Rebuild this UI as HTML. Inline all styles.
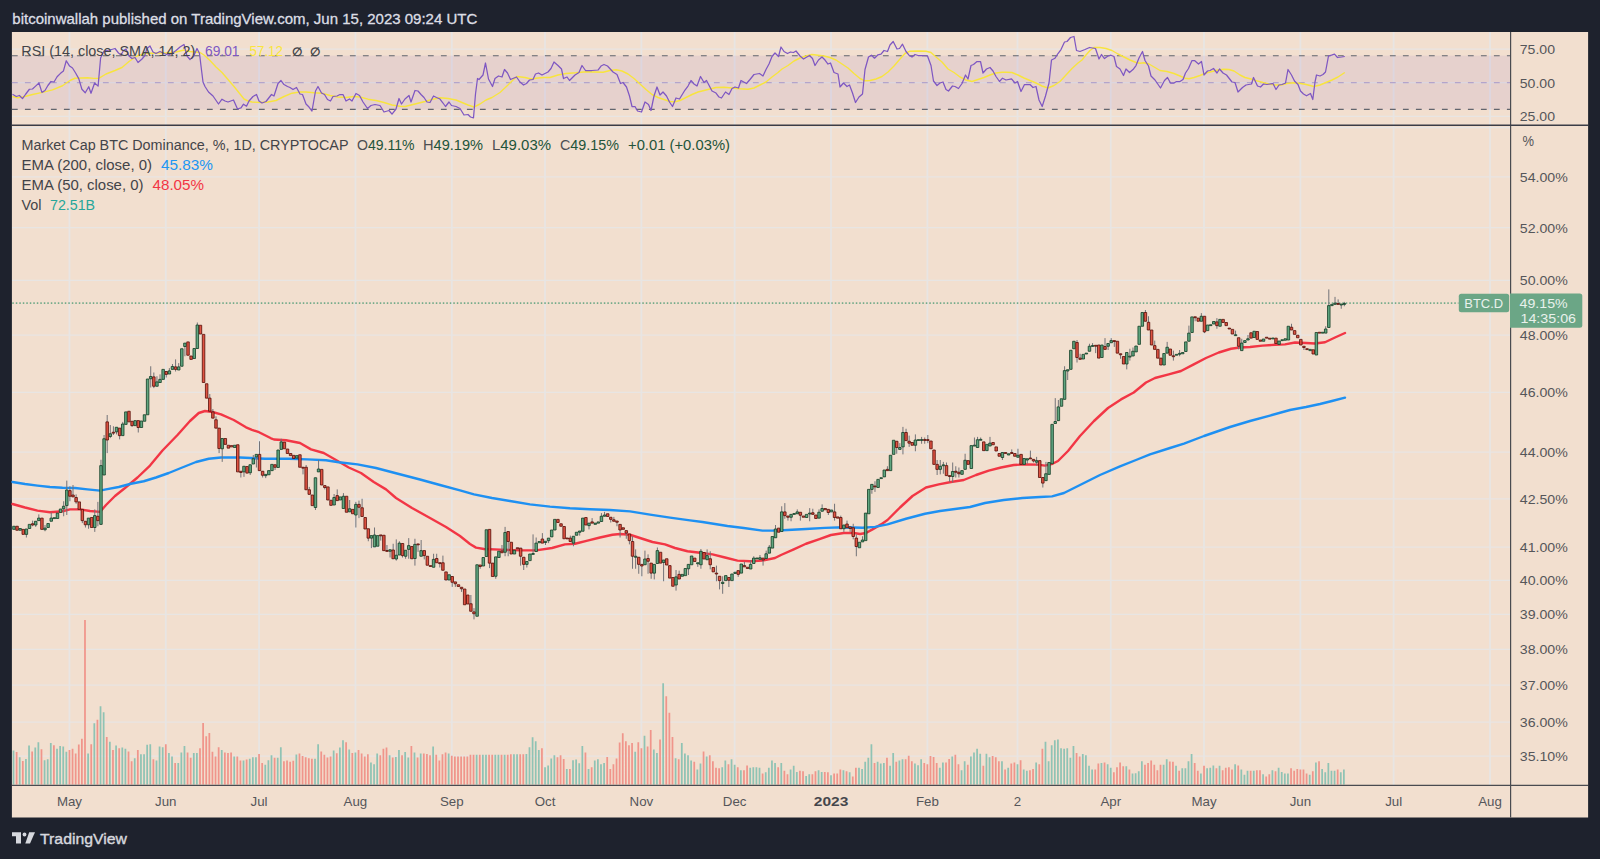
<!DOCTYPE html>
<html lang="en"><head><meta charset="utf-8"><title>BTC.D chart</title>
<style>html,body{margin:0;padding:0;background:#1e222d;}body{width:1600px;height:859px;overflow:hidden;position:relative;}svg{position:absolute;left:0;top:0;display:block;font-family:"Liberation Sans", Arial, sans-serif;font-size:14px;}</style>
</head><body>
<svg width="1600" height="859" viewBox="0 0 1600 859">
<rect x="0" y="0" width="1600" height="859" fill="#1e222d"/>
<rect x="11.9" y="32" width="1576.2" height="785.5" fill="#f2dfcf"/>
<g stroke="#e8e5e3" stroke-width="1.8">
<line x1="69.45" y1="32" x2="69.45" y2="785"/>
<line x1="165.81" y1="32" x2="165.81" y2="785"/>
<line x1="259.06" y1="32" x2="259.06" y2="785"/>
<line x1="355.42" y1="32" x2="355.42" y2="785"/>
<line x1="451.78" y1="32" x2="451.78" y2="785"/>
<line x1="545.04" y1="32" x2="545.04" y2="785"/>
<line x1="641.4" y1="32" x2="641.4" y2="785"/>
<line x1="734.65" y1="32" x2="734.65" y2="785"/>
<line x1="831.01" y1="32" x2="831.01" y2="785"/>
<line x1="927.37" y1="32" x2="927.37" y2="785"/>
<line x1="1017.51" y1="32" x2="1017.51" y2="785"/>
<line x1="1110.76" y1="32" x2="1110.76" y2="785"/>
<line x1="1204.02" y1="32" x2="1204.02" y2="785"/>
<line x1="1300.38" y1="32" x2="1300.38" y2="785"/>
<line x1="1393.63" y1="32" x2="1393.63" y2="785"/>
<line x1="1489.99" y1="32" x2="1489.99" y2="785"/>
</g>
<g stroke="#e8e5e3" stroke-width="1.3">
<line x1="12" y1="176.8" x2="1510" y2="176.8"/>
<line x1="12" y1="227.55" x2="1510" y2="227.55"/>
<line x1="12" y1="280.29" x2="1510" y2="280.29"/>
<line x1="12" y1="335.18" x2="1510" y2="335.18"/>
<line x1="12" y1="392.41" x2="1510" y2="392.41"/>
<line x1="12" y1="452.19" x2="1510" y2="452.19"/>
<line x1="12" y1="498.83" x2="1510" y2="498.83"/>
<line x1="12" y1="547.15" x2="1510" y2="547.15"/>
<line x1="12" y1="580.35" x2="1510" y2="580.35"/>
<line x1="12" y1="614.4" x2="1510" y2="614.4"/>
<line x1="12" y1="649.32" x2="1510" y2="649.32"/>
<line x1="12" y1="685.19" x2="1510" y2="685.19"/>
<line x1="12" y1="722.03" x2="1510" y2="722.03"/>
<line x1="12" y1="756.07" x2="1510" y2="756.07"/>
<line x1="12" y1="49.1" x2="1510" y2="49.1"/>
<line x1="12" y1="82.6" x2="1510" y2="82.6"/>
<line x1="12" y1="116.4" x2="1510" y2="116.4"/>
<line x1="12" y1="127.6" x2="1510" y2="127.6"/>
</g>
<rect x="12" y="55.7" width="1498.5" height="53.8" fill="#7e57c2" fill-opacity="0.1"/>
<g fill="none" stroke-width="1.15" stroke-dasharray="5.8 7.2">
<path d="M11.9 55.7H1510" stroke="#62656e"/>
<path d="M11.9 109.3H1510" stroke="#62656e"/>
<path d="M11.9 82.6H1510" stroke="#b3a4cb" stroke-width="1.15"/>
</g>
<path d="M12.5 96.5L17.5 97.75L25 96.5L32.5 94.5L42.5 92.4L52.5 89.9L62.5 85.75L70 80.5L75 78.25L81.25 78L87.5 77.75L93.75 78.4L98.75 78.4L106 74L115 70.5L122 67.5L129 61.5L137 56L145 53.5L156 53L168 53L176 52L184 50L190 51.5L200 52.5L204 55L210 60.5L216 67L222 72.5L228 79.5L234 86.5L240 94L244 99L248 101L252 102L260 102.5L268 102L276 100.5L284 96.5L292 93.2L300 92L306 92L314 92.8L322 93.2L330 95.5L338 97L346 97.5L354 96.5L360 97L368 99.2L376 100.5L384 102.5L392 105L400 106.2L405 106.5L415 104L425 101.5L433 99.2L440 97.8L448 98.5L456 100L462 102.5L468 105L474 107L480 104L486 100L492 97.5L500 92.5L508 85L513 80L517 76.5L525 77.5L531 79L538 78L544 77.5L550 77.5L558 75L566 73.5L576 72.8L586 71.8L595 72L603 72.2L610 70.5L616 69.8L622 71L628 74L634 78.5L640 84L646 89.5L652 94.5L658 97.5L664 99.5L670 101.5L675 101.7L680 100.5L686 97.5L692 94.5L698 92L704 90.5L710 89L716 87.5L724 87.2L732 88L740 88.8L748 89.2L754 88L760 85L766 82L772 77L778 72.5L782 69L788 65.5L794 61L800 58L806 56L812 54.5L818 55.2L824 56L830 57.5L836 60L842 64L848 68L854 73.5L860 78.5L865 80.8L870 80.5L876 79L882 76.5L888 72L894 66L900 59L905 53.5L910 51.2L918 51L926 51.2L931 52.5L936 57L942 62L948 69L954 72.5L960 77L966 80L972 81.5L978 79.5L984 77.5L990 75L996 73L1002 72.2L1006 72.2L1012 72.5L1018 75L1024 78L1030 80.5L1036 83L1042 86L1048 88L1054 85.5L1060 81.5L1066 75L1072 68.5L1078 63L1082 60L1086 55L1090 50.5L1094 47.5L1100 47.5L1106 48.5L1112 50.5L1118 54L1124 57L1130 60L1136 62.5L1140 63.2L1144 62.8L1149 64L1155 67.5L1160 70.5L1167 71.5L1174 73.5L1180 76L1185 78.2L1189 78.8L1194 77.5L1200 75.5L1206 73L1212 71.5L1218 70L1224 69.2L1229 69.5L1234 71L1240 75L1245 77.5L1251 79L1257 80.8L1263 82.5L1269 84L1275 85L1281 85L1287 83.5L1293 82.8L1299 83.2L1305 84.2L1310 85.5L1314 86.5L1320 85L1326 82.5L1332 80L1338 77L1344.8 72.5" fill="none" stroke="#f8e43e" stroke-width="1.4" stroke-linejoin="round"/>
<path d="M12.5 94.25L16.25 96.5L19.4 95.5L22.5 98.6L25.6 94.25L29.4 89.25L32.5 89L35.6 86.1L39 83L41.9 92.4L45 90.5L47.9 85.5L51 81.5L54 82L57.1 76.75L60.25 73.6L63.4 71.1L66.25 60.75L69.6 66.1L72.5 68L75.6 73L78.75 78.6L81.9 89.25L85.25 92.75L88.75 86.75L91 93.25L94.6 83L98.1 86.1L100.6 58L104 51L110 50L115 48.5L118.5 53L121 55L123.5 50.5L126 49L129 56L132 58.5L135 57.5L138 62.5L142 59L144.5 56L147 48.5L150 46L153 52L156 53.5L160 51.5L164 53.5L168 55L172 53.5L176 50.5L180 47L184 44.5L187 56L190 59.5L193.5 56.5L197 48.5L199.5 53.5L201 66L203 82L205 86.5L208.5 92L213 96L218.5 104L222 99.2L225 101L228 102L233.5 100L237.5 109L241 107.8L243.5 104.2L246.5 106.2L249 101L253 96.5L256.5 94.5L259 101L262 103L266 101.5L271.5 94.5L274 96L278 83.5L281 80.5L284 84.5L287.5 86.5L290 87.5L293 89.5L296.5 87.5L300 94L302.5 94.5L306 104L309 107L312 111L315.5 91L318 86.5L321.5 93L324.5 94.5L327.5 99.5L330.5 101L333 96.5L337 96L340 94.5L343 94.5L346 101L349.5 99L352 101L356 93.5L359.5 95.5L363 102L367.5 108.5L371 105.5L375 104.5L380 105.5L384 112L389 110.5L392 114.2L396 109L399 98.5L401.5 104L405 99L409 95.5L411 102L415 90.5L418 91L421 94.5L424 97.5L427 102L430 102.5L433.5 96L436.5 97.5L440 99L443 103L445.5 106.5L449 102L451.5 105.5L456 106.5L460 108.5L464 115L468 114.5L470.5 117L473.5 117.8L475.5 94L477.5 78.5L479 79.5L483 75L485.5 63L488.5 79L492.5 86.5L495 78.5L498.5 76L502 77L504.5 69.5L507.5 73L510.5 79.5L516.5 77L520 82L523.5 85L526.5 83.5L529.5 80L533 79.5L535.5 74L538.5 73L542 75L548 72L551 68.5L554 62L558 65.5L561.5 69L563.5 78.5L567 77L569.5 80.5L575 75L579 72.5L582 65.5L585.5 70.5L592 70.5L598 70L601 66L604 64.5L607.5 66L613 72L617 74.5L620.5 83.5L623 82.5L626.5 87L629.5 96L632 106.5L635 106.5L637.5 111L641.5 112L645 102L648.5 104.5L651 110.5L654 96L657 87L660 95L663 92L666.5 96L669.5 102L672.5 106.5L676 98L679.5 99L685 90L688 86L691 80.5L694 84L697 86L700.5 76.5L704 82.5L706.5 80.5L712 91L716 93L719 97L721.5 98L725.5 92L729 94.5L732 88.5L735 87L738.5 88L741 80.5L746.5 83.5L750 79.5L754 74.5L759.5 73.5L763 76L766 69.5L769 64L772 56.5L775 53L778.5 56.5L781 47L784 51.5L787.5 53.5L790.5 52L793.5 52.5L796 51L800 56L803.5 59L806 57.5L809.5 55.5L812.5 58.5L815 65.5L818.5 60L822 57L825 60L828 64L830.5 63L834 72.5L838 74L840 87L843.5 83L847 86.5L849.5 85L852.5 93L855.5 102.5L859 97L862.5 94L865 69.5L868.5 57L871.5 55.2L874.5 58.2L878 54.8L881 54.2L884 50.5L887.5 51.5L890 45L893.2 41.5L897 49L899.5 48.5L902.5 44.2L906 51.5L909 55.2L912 57L915 54.5L918 55.5L922 55.5L927.5 56L931 65.5L933.5 81L937 85.5L940 83L943 82L946 89.5L948.5 91L952.5 86L955 86.5L958.5 88.5L962 83.5L965.5 75L968 79L971 65.5L973.5 64.5L977 61.5L980.5 61.5L983 73L986.5 69L990 67.5L993 71L996 76.5L999.5 81.5L1002.5 78.2L1006 80L1011.5 78.8L1015 83L1017.5 81.5L1021 91.5L1024.5 84.5L1030 84.5L1033 87.5L1036 86.5L1039 100L1042.2 106.5L1045.5 96L1049 83L1051.5 60L1055 58.2L1058 53.5L1061 49.5L1064.5 42L1067 41.5L1070.5 37.5L1074 36.5L1076.5 50.5L1080 51.5L1085 49.5L1089.5 47.5L1095.5 48.5L1099 59L1101.5 54.5L1104.5 58.5L1108 56L1111 55.2L1114 56.5L1116.5 66.5L1120 69L1123.5 75.5L1126 69L1129.5 72.5L1133 69.5L1136 65.5L1139 58L1142.5 51.5L1145 60.5L1148.5 66L1151 76L1155 80L1160.5 88L1164.5 80.5L1167.5 77.5L1170.5 83L1174 83L1176.5 81.5L1180 81.5L1183 79.5L1185.5 73L1188.5 68.5L1192 60.5L1194.5 60.5L1198.5 64L1201.5 61.5L1204 75L1207.5 71L1210 70.5L1213.5 68.5L1217 73L1219.5 69L1223 73L1226.5 75L1232 82L1235 82.5L1238 92L1242.5 87.5L1246 85L1251.5 84L1253.5 77.5L1257.5 86L1260.5 87L1263.5 84L1267 84.5L1273 83.5L1276 89.5L1279 85L1282 84.5L1285.5 83L1288 69.5L1291.5 75L1294.5 81L1298 84.5L1300.5 91L1303.5 94L1306.5 95.8L1310.5 93.5L1312.8 99.5L1315 82L1316.5 75L1320 76L1323 74.5L1325.5 72L1328.5 56L1331.5 55.2L1334.5 54.2L1337.5 57.5L1341.5 57L1344.8 56.5" fill="none" stroke="#7e57c2" stroke-width="1.25" stroke-linejoin="round"/>
<path d="M13.5 784.5v-33.96M19.72 784.5v-27.25M25.93 784.5v-25.58M29.04 784.5v-38.99M35.26 784.5v-37.11M38.37 784.5v-42.14M44.58 784.5v-24.32M47.69 784.5v-25.16M50.8 784.5v-41.51M57.02 784.5v-35.64M60.12 784.5v-38.57M63.23 784.5v-37.95M66.34 784.5v-32.7M88.1 784.5v-31.03M94.32 784.5v-61.22M100.53 784.5v-78.2M103.64 784.5v-72.33M109.86 784.5v-42.77M116.08 784.5v-38.99M122.29 784.5v-36.9M125.4 784.5v-35.64M134.73 784.5v-26.21M140.94 784.5v-30.19M144.05 784.5v-30.19M147.16 784.5v-39.83M150.27 784.5v-40.25M156.49 784.5v-23.9M159.59 784.5v-37.95M162.7 784.5v-37.32M168.92 784.5v-31.45M172.03 784.5v-28.09M178.24 784.5v-21.38M181.35 784.5v-32.08M184.46 784.5v-38.57M193.79 784.5v-31.45M196.89 784.5v-31.45M221.76 784.5v-34.38M234.2 784.5v-28.09M243.52 784.5v-23.9M249.74 784.5v-25.79M252.85 784.5v-27.25M255.95 784.5v-27.25M265.28 784.5v-19.71M268.39 784.5v-24.32M271.5 784.5v-29.14M277.71 784.5v-26.83M280.82 784.5v-37.32M296.36 784.5v-29.98M315.01 784.5v-25.79M318.12 784.5v-40.25M333.66 784.5v-33.96M339.88 784.5v-37.11M342.99 784.5v-44.23M349.21 784.5v-35.01M355.42 784.5v-32.08M370.96 784.5v-22.01M374.07 784.5v-20.13M377.18 784.5v-31.03M389.62 784.5v-29.14M395.83 784.5v-27.46M398.94 784.5v-34.38M405.16 784.5v-32.49M408.27 784.5v-27.04M414.48 784.5v-32.08M420.7 784.5v-31.03M433.13 784.5v-37.95M448.67 784.5v-31.03M476.65 784.5v-29.77M482.87 784.5v-29.77M485.98 784.5v-29.77M495.3 784.5v-29.77M498.41 784.5v-29.77M504.63 784.5v-29.77M513.95 784.5v-30.19M517.06 784.5v-30.19M526.38 784.5v-30.61M529.49 784.5v-37.32M532.6 784.5v-47.17M535.71 784.5v-43.19M538.82 784.5v-34.38M545.04 784.5v-17.19M548.14 784.5v-19.08M551.25 784.5v-26M554.36 784.5v-29.14M566.79 784.5v-15.51M573.01 784.5v-24.32M576.12 784.5v-24.95M579.23 784.5v-21.17M582.34 784.5v-38.57M588.55 784.5v-15.51M594.77 784.5v-24.11M597.88 784.5v-25.37M600.99 784.5v-20.13M604.09 784.5v-21.38M635.18 784.5v-32.7M644.5 784.5v-48.85M653.83 784.5v-35.01M656.94 784.5v-31.45M663.15 784.5v-101.26M675.59 784.5v-26.21M681.8 784.5v-41.51M684.91 784.5v-31.03M688.02 784.5v-29.14M691.13 784.5v-24.11M697.35 784.5v-15.09M700.46 784.5v-20.96M706.67 784.5v-28.09M722.21 784.5v-17.19M725.32 784.5v-24.11M731.54 784.5v-25.16M734.65 784.5v-19.71M740.86 784.5v-14.26M750.19 784.5v-16.77M753.3 784.5v-17.19M756.41 784.5v-17.19M759.51 784.5v-16.77M765.73 784.5v-12.16M768.84 784.5v-16.77M771.95 784.5v-23.9M775.06 784.5v-21.38M781.27 784.5v-21.38M790.6 784.5v-15.09M793.71 784.5v-18.66M796.82 784.5v-12.58M806.14 784.5v-8.39M809.25 784.5v-10.27M818.57 784.5v-14.26M821.68 784.5v-12.58M831.01 784.5v-9.22M843.44 784.5v-14.26M849.66 784.5v-12.16M858.98 784.5v-16.77M862.09 784.5v-15.51M865.2 784.5v-22.64M868.31 784.5v-26.83M871.42 784.5v-40.25M877.63 784.5v-22.64M880.74 784.5v-20.96M883.85 784.5v-21.38M890.07 784.5v-18.66M893.18 784.5v-31.45M899.39 784.5v-23.9M902.5 784.5v-25.16M914.93 784.5v-20.96M918.04 784.5v-19.29M921.15 784.5v-25.16M939.8 784.5v-16.77M942.91 784.5v-22.01M952.24 784.5v-28.09M961.56 784.5v-14.26M964.67 784.5v-23.27M970.89 784.5v-28.09M973.99 784.5v-32.08M977.1 784.5v-35.64M980.21 784.5v-30.82M986.43 784.5v-30.82M989.54 784.5v-27.25M1001.97 784.5v-23.27M1008.19 784.5v-16.77M1017.51 784.5v-20.13M1023.73 784.5v-15.09M1026.84 784.5v-13.84M1036.16 784.5v-22.01M1045.49 784.5v-42.77M1048.6 784.5v-23.27M1051.7 784.5v-39.2M1054.81 784.5v-44.23M1057.92 784.5v-45.07M1061.03 784.5v-36.27M1064.14 784.5v-35.64M1067.25 784.5v-36.27M1070.35 784.5v-26.83M1073.46 784.5v-38.57M1082.79 784.5v-30.4M1085.9 784.5v-29.14M1089.01 784.5v-18.66M1092.11 784.5v-15.09M1101.44 784.5v-21.38M1107.66 784.5v-20.13M1110.76 784.5v-16.77M1126.31 784.5v-18.24M1132.52 784.5v-10.9M1135.63 784.5v-11.32M1138.74 784.5v-13.21M1141.85 784.5v-23.27M1163.61 784.5v-19.71M1166.72 784.5v-25.16M1176.04 784.5v-18.66M1182.26 784.5v-16.14M1185.37 784.5v-16.14M1188.47 784.5v-23.27M1191.58 784.5v-30.4M1200.91 784.5v-10.9M1207.12 784.5v-16.14M1210.23 784.5v-16.77M1213.34 784.5v-19.08M1219.56 784.5v-18.66M1235.1 784.5v-20.13M1241.32 784.5v-15.09M1244.43 784.5v-9.64M1247.53 784.5v-13.84M1253.75 784.5v-13.84M1263.08 784.5v-10.27M1272.4 784.5v-14.26M1278.62 784.5v-16.77M1281.73 784.5v-12.58M1284.83 784.5v-10.9M1287.94 784.5v-10.9M1309.7 784.5v-9.64M1315.92 784.5v-22.01M1322.14 784.5v-15.51M1325.24 784.5v-12.16M1328.35 784.5v-21.38M1331.46 784.5v-13.84M1334.57 784.5v-13.84M1340.79 784.5v-12.16M1343.89 784.5v-15.09" stroke="#8fc3b4" stroke-width="1.75" fill="none"/>
<path d="M16.61 784.5v-32.49M22.82 784.5v-23.48M32.15 784.5v-33.12M41.47 784.5v-35.22M53.91 784.5v-39.2M69.45 784.5v-34.38M72.56 784.5v-35.85M75.67 784.5v-31.03M78.78 784.5v-40.04M81.88 784.5v-45.7M84.99 784.5v-164.57M91.21 784.5v-40.25M97.43 784.5v-64.78M106.75 784.5v-47.59M112.97 784.5v-34.38M119.18 784.5v-36.27M128.51 784.5v-33.12M131.62 784.5v-23.27M137.83 784.5v-34.38M153.38 784.5v-25.16M165.81 784.5v-40.25M175.14 784.5v-21.38M187.57 784.5v-32.08M190.68 784.5v-26.83M200 784.5v-36.27M203.11 784.5v-61.43M206.22 784.5v-48.22M209.33 784.5v-51.57M212.44 784.5v-32.7M215.54 784.5v-28.09M218.65 784.5v-37.32M224.87 784.5v-32.08M227.98 784.5v-31.45M231.09 784.5v-32.08M237.3 784.5v-28.09M240.41 784.5v-24.11M246.63 784.5v-24.95M259.06 784.5v-30.4M262.17 784.5v-21.38M274.6 784.5v-26.83M283.93 784.5v-23.27M287.04 784.5v-23.9M290.15 784.5v-22.64M293.25 784.5v-23.69M299.47 784.5v-31.03M302.58 784.5v-28.51M305.69 784.5v-27.25M308.8 784.5v-26.21M311.91 784.5v-25.79M321.23 784.5v-33.12M324.34 784.5v-29.77M327.45 784.5v-27.04M330.56 784.5v-28.09M336.77 784.5v-31.24M346.1 784.5v-42.14M352.31 784.5v-31.45M358.53 784.5v-34.38M361.64 784.5v-31.03M364.75 784.5v-28.09M367.86 784.5v-30.19M380.29 784.5v-29.14M383.4 784.5v-35.85M386.51 784.5v-37.11M392.72 784.5v-27.04M402.05 784.5v-29.35M411.37 784.5v-38.57M417.59 784.5v-27.04M423.81 784.5v-31.03M426.92 784.5v-30.4M430.02 784.5v-29.35M436.24 784.5v-29.77M439.35 784.5v-24.11M442.46 784.5v-30.19M445.57 784.5v-32.08M451.78 784.5v-28.72M454.89 784.5v-28.09M458 784.5v-28.09M461.11 784.5v-28.09M464.22 784.5v-28.09M467.33 784.5v-28.09M470.43 784.5v-29.77M473.54 784.5v-29.77M479.76 784.5v-29.77M489.08 784.5v-29.77M492.19 784.5v-29.77M501.52 784.5v-29.77M507.73 784.5v-29.77M510.84 784.5v-30.19M520.17 784.5v-30.19M523.28 784.5v-30.19M541.93 784.5v-36.27M557.47 784.5v-27.25M560.58 784.5v-29.14M563.69 784.5v-25.58M569.9 784.5v-15.51M585.44 784.5v-32.08M591.66 784.5v-17.19M607.2 784.5v-27.46M610.31 784.5v-15.51M613.42 784.5v-20.13M616.53 784.5v-26M619.64 784.5v-41.93M622.75 784.5v-51.15M625.85 784.5v-43.19M628.96 784.5v-39.2M632.07 784.5v-41.51M638.29 784.5v-42.14M641.4 784.5v-36.27M647.61 784.5v-37.95M650.72 784.5v-54.51M660.05 784.5v-45.07M666.26 784.5v-88.26M669.37 784.5v-71.7M672.48 784.5v-47.38M678.7 784.5v-25.16M694.24 784.5v-22.64M703.56 784.5v-33.12M709.78 784.5v-29.35M712.89 784.5v-23.27M716 784.5v-16.77M719.11 784.5v-16.14M728.43 784.5v-20.13M737.76 784.5v-17.19M743.97 784.5v-14.26M747.08 784.5v-19.08M762.62 784.5v-10.9M778.17 784.5v-17.19M784.38 784.5v-13.84M787.49 784.5v-10.27M799.92 784.5v-13.84M803.03 784.5v-13.21M812.36 784.5v-10.27M815.47 784.5v-13.21M824.79 784.5v-12.58M827.9 784.5v-12.16M834.12 784.5v-10.9M837.22 784.5v-10.9M840.33 784.5v-15.09M846.55 784.5v-13.21M852.77 784.5v-7.97M855.88 784.5v-16.77M874.53 784.5v-21.38M886.96 784.5v-26.83M896.28 784.5v-22.64M905.61 784.5v-25.16M908.72 784.5v-28.72M911.83 784.5v-23.27M924.26 784.5v-21.38M927.37 784.5v-20.34M930.48 784.5v-28.51M933.59 784.5v-27.46M936.69 784.5v-21.38M946.02 784.5v-22.01M949.13 784.5v-25.58M955.34 784.5v-29.77M958.45 784.5v-20.13M967.78 784.5v-19.71M983.32 784.5v-18.66M992.64 784.5v-28.51M995.75 784.5v-27.25M998.86 784.5v-23.27M1005.08 784.5v-15.09M1011.3 784.5v-20.96M1014.4 784.5v-22.01M1020.62 784.5v-24.32M1029.95 784.5v-14.26M1033.05 784.5v-15.51M1039.27 784.5v-20.13M1042.38 784.5v-35.64M1076.57 784.5v-31.45M1079.68 784.5v-28.09M1095.22 784.5v-15.09M1098.33 784.5v-20.96M1104.55 784.5v-22.01M1113.87 784.5v-12.16M1116.98 784.5v-17.19M1120.09 784.5v-22.01M1123.2 784.5v-18.24M1129.41 784.5v-15.09M1144.96 784.5v-19.71M1148.06 784.5v-21.38M1151.17 784.5v-24.11M1154.28 784.5v-19.71M1157.39 784.5v-14.26M1160.5 784.5v-19.71M1169.82 784.5v-23.06M1172.93 784.5v-22.64M1179.15 784.5v-13.84M1194.69 784.5v-21.38M1197.8 784.5v-13.84M1204.02 784.5v-18.66M1216.45 784.5v-16.14M1222.67 784.5v-14.26M1225.77 784.5v-16.77M1228.88 784.5v-17.19M1231.99 784.5v-15.09M1238.21 784.5v-19.08M1250.64 784.5v-13.84M1256.86 784.5v-14.26M1259.97 784.5v-14.26M1266.18 784.5v-7.97M1269.29 784.5v-10.27M1275.51 784.5v-13.21M1291.05 784.5v-16.14M1294.16 784.5v-13.84M1297.27 784.5v-15.51M1300.38 784.5v-15.09M1303.48 784.5v-15.09M1306.59 784.5v-10.9M1312.81 784.5v-13.21M1319.03 784.5v-23.27M1337.68 784.5v-15.09" stroke="#f0958b" stroke-width="1.75" fill="none"/>
<path d="M12.3 303.1H1458.5" stroke="#74ab8a" stroke-width="1.6" stroke-dasharray="1.5 2" fill="none"/>
<path d="M12.5 504L25 507.5L37.5 510.6L50 512.25L62.5 511.25L70 509.4L80 509.4L90 511L100 511.9L106 505L115 496L125 488L137.5 477.5L150 465.6L162.5 450.5L177.5 435L190 421L198.75 413L205 411L212.5 412L221 414.4L233.75 420L246 427.3L252 429.8L259 432.2L264 434.8L271 438.3L274 439.5L286 440.25L300 443L311 449.4L323.75 453L336 460L348.75 467.5L361 473L373.75 482L386 489.4L396 498L412 508L430 518L446 527L460 536L470 544L476 547.6L484 549L500 549.6L520 550.4L536 550.4L552 548L565 544.4L575 543.75L587.5 540.6L600 537.5L612.5 534.75L620 534L630 534.75L640 538L652.5 542L665 544.4L675 548L687.5 551.25L700 552.75L712.5 554.4L725 557.5L737.5 560.6L750 561.25L762.5 560.6L775 558L781 555L793.75 549.4L806 543.75L818.75 539.4L831 535L843.75 533L853.75 533L860 534L866 533L872.5 529.4L881 524.4L887.5 520L900 507.5L912.5 496L926 487.5L938.75 484.4L951 482L963.75 480L976 475L988.75 470.6L1001 467.5L1013.75 465L1026 464.4L1037.5 464.6L1045 465.6L1052.5 463.75L1058 461L1068 451L1080 436L1094 421L1108 408L1121 399.4L1133.75 392.5L1146 382.5L1155 378L1168.75 374.4L1181 371L1193.75 364.4L1206 358L1218.75 352.5L1231 348.75L1240 347.5L1250 347L1262.5 345.6L1275 344.75L1285 344.4L1295 342.5L1306 343L1315 343.5L1325 342.25L1335 337.5L1345 333" fill="none" stroke="#f23645" stroke-width="2.4" stroke-linejoin="round" stroke-linecap="round"/>
<path d="M12.5 482L25 484L37.5 485.6L50 487L62.5 487.75L75 488L87.5 489.4L100 490.6L106 489.4L118.75 487L131 483.75L143.75 481.25L156 477.5L168.75 473L181 468L196 462L208.75 458.75L221 457.5L240 457.5L265 458.75L288.75 458.75L307.5 459.4L326 460.25L338.75 462.25L357.5 464.4L376 468L395 473L420 479.5L440 485L460 490.4L474 494.4L492 498L510 501L530 504.4L550 506.6L570 508.2L590 509.2L610 510L630 511.4L650 514.6L670 517.6L690 520.4L702.5 522L727.5 526L743.75 528L762.5 530.6L775 530.6L787.5 530L806 529L825 527.9L843.75 527.25L862.5 527.75L875 526.9L887.5 524.4L906 518.75L925 513.75L940 511L955 509L970 507L985 503L1003.75 500L1022.5 498L1040 497L1052 496.4L1064 493L1080 485L1100 475L1120 466.4L1136 460L1150 454.4L1170 448L1184 443.6L1204 436L1230 427L1250 421L1270 415.6L1290 410L1306 407L1320 404L1332 401L1345 397.6" fill="none" stroke="#1e90f2" stroke-width="2.4" stroke-linejoin="round" stroke-linecap="round"/>
<path d="M26.38 529V537.5M32.6 520.62V526.25M35.71 521.25V526.88M38.82 514.38V520.62M45.03 525V531.25M51.25 512.5V521.25M63.68 501.25V516.25M66.79 480.62V515M69.9 486.25V501.25M73.01 485V496.88M76.12 494.38V503.75M82.33 509.38V523.12M85.44 521.25V527.5M88.55 518.12V528.75M94.77 509.38V531.88M97.88 501.88V526.25M100.98 459.75V525M104.09 435V475M107.2 415V453.12M110.31 425V438.12M113.42 426.25V435M116.53 427.25V434.38M119.63 428.12V439.38M122.74 421.88V435.62M132.07 421.25V426.88M138.28 420.62V432.5M150.72 366.25V387.5M153.83 372.5V388.12M156.94 376.25V386.25M160.04 374.38V382.5M166.26 371.5V377.5M169.37 368.12V374M172.48 364V369.38M175.59 359.38V371.5M178.69 363.12V370M184.91 343.12V356.25M197.34 322.5V348.5M209.78 394V411.25M212.89 409V418.12M215.99 416.25V428.12M219.1 428.12V453.12M222.21 438.5V461.88M240.86 471.25V477.5M243.97 466.25V476.88M250.19 464.75V475M253.3 455V464M256.4 454.38V467.5M259.51 441.25V470.62M262.62 471.25V477.5M265.73 474.38V478.12M275.05 464.75V470M281.27 438.75V449.38M303.03 467.25V474.38M306.14 465V489.75M309.25 486.88V494.38M315.46 477.75V510M318.57 460V471.88M324.79 485.62V489.38M334.11 494V505M337.22 489.38V500.62M343.44 493.12V508.5M349.66 500V511.88M355.87 501.88V527.5M358.98 500.62V518.12M362.09 498.75V516.5M368.31 528.75V541.25M371.41 535.62V548.12M374.52 527.5V546.88M380.74 535V540.62M386.96 545V551.25M390.07 549.75V557.5M393.17 543.75V558.75M396.28 539.38V560.62M399.39 541.25V555M402.5 543.5V557.5M405.61 550.25V558.75M408.72 538.12V558.75M414.93 538.75V565.62M418.04 544V551.88M421.15 540V556.25M424.26 550.62V559.38M433.58 553.75V567.25M436.69 553.75V562.75M439.8 562.75V567.5M442.91 555.62V570.25M452.23 576.5V586.88M455.34 581.88V586.88M461.56 587.25V591.88M470.88 595V611.25M473.99 608.12V619.38M480.21 565V568.75M489.53 529.38V568.12M495.75 556.88V578.75M501.97 545V552.75M505.08 526.88V556.25M508.18 531.5V556.25M520.62 548.12V565.62M523.73 557.25V570M526.83 561.5V567.5M533.05 534.38V554.38M536.16 537.5V551.5M542.38 533.12V543.12M545.49 541.25V545M548.59 538.12V543.12M570.35 535.62V541.5M573.46 536.25V546.25M579.68 531V535.62M589 523.12V529.38M592.11 518.12V523.12M601.44 513.12V521.5M604.54 511.88V516.25M610.76 517.25V522.5M613.87 516.88V521.25M616.98 521V526.25M620.09 524.38V537.5M626.3 530.62V538.75M629.41 534V544.38M632.52 536.25V568.75M635.63 549.38V568.75M638.74 557.25V573.75M641.85 564.38V576.25M644.95 550.62V564.75M648.06 554.38V573.75M651.17 563.12V578.75M654.28 564.38V579.38M657.39 547.5V563.5M663.6 560V581.25M676.04 570V590.62M679.15 570.62V579M688.47 564.38V575M697.8 562.75V566.88M700.91 549V568.75M707.12 549.38V559.75M710.23 551.25V569.38M716.45 565.62V581.25M719.56 576.25V589.38M722.66 576.25V593.75M728.88 577.5V587M738.21 570.62V576.88M744.42 561.88V566.88M750.64 560V569M753.75 556.25V563.5M759.96 555V559.38M763.07 558.12V565.62M766.18 550.62V558.5M769.29 545V553.12M775.51 525V537.75M781.72 506.25V531.5M784.83 503.12V518.75M787.94 516V520.62M791.05 514.38V521.25M797.27 509.38V513.75M800.37 512.25V520.62M809.7 508.12V521.25M812.81 508.75V514.38M819.02 509.38V518.12M822.13 504.38V511.25M828.35 509.38V515M834.57 503.75V520.62M840.78 515.62V528.75M843.89 525V531.88M847 520.62V527.75M850.11 526.88V531.88M853.22 523.75V539.38M856.33 534.38V556.25M862.54 536.25V541.88M871.87 484.38V493.75M874.98 481.25V491.88M887.41 466.25V470.62M896.73 441.25V453.75M899.84 443.12V449.38M902.95 426.88V454.38M906.06 428.75V440.62M909.17 435.62V446.88M915.38 434.38V451.25M921.6 436.88V443.75M924.71 437.5V443.75M927.82 435V443.12M937.14 460V475M940.25 460V474.38M943.36 461.88V473.75M946.47 462.5V475.62M949.58 475.62V481.88M952.69 462.5V482.5M955.79 466.25V477.5M958.9 467.5V477.5M965.12 453.75V469.38M974.44 437.5V446M977.55 436.88V447.5M980.66 437.5V440.12M989.99 436.88V446M1002.42 452.5V460M1011.75 449.38V453.5M1017.96 448.75V457.25M1027.29 458.75V463.75M1030.4 450.62V458.75M1033.5 459.38V462.5M1036.61 456.88V465.62M1042.83 477.5V487.5M1045.94 461.88V480.62M1055.26 398.12V423.5M1058.37 400V420.62M1064.59 366.25V399.38M1067.7 369.75V380M1077.02 340V362.5M1080.13 353.75V359.38M1089.46 343.75V351.25M1092.56 343.12V346.38M1095.67 345.38V353.12M1105 338.12V349.38M1108.11 343.5V350M1111.21 338.12V342.75M1114.32 340.62V346.88M1120.54 353.75V358.75M1126.76 352.5V369.38M1129.86 348.75V360.62M1132.97 347.5V356M1145.41 310V321.25M1148.51 316.25V330M1154.73 340.62V349.38M1167.17 341.88V353.12M1173.38 350.62V360.62M1179.6 350V356.25M1188.92 325.62V341.25M1195.14 316.88V321.25M1201.36 313.12V321.25M1204.47 316.25V333.12M1216.9 318.12V328.75M1235.55 330.62V335.62M1238.66 337.75V349.38M1241.77 338.75V350.62M1247.98 335V340M1291.5 323.75V330M1303.93 346.25V350M1325.69 326.25V333.12M1328.8 289.38V327.5M1335.02 296.88V304.38M1338.13 299.38V304.38M1341.24 304V308.75M1344.34 301.88V306.25" stroke="#737378" stroke-width="1" fill="none"/>
<g stroke-width="0.8">
<path d="M12.7 526.25h2.5v3.12h-2.5z" fill="#60a680" stroke="#103c24"/>
<path d="M15.81 526.25h2.5v4h-2.5z" fill="#df5342" stroke="#560d07"/>
<path d="M18.92 528.5h2.5v1.75h-2.5z" fill="#60a680" stroke="#103c24"/>
<path d="M22.02 529.38h2.5v5h-2.5z" fill="#df5342" stroke="#560d07"/>
<path d="M25.13 529h2.5v5.38h-2.5zM28.24 524.38h2.5v4.12h-2.5z" fill="#60a680" stroke="#103c24"/>
<path d="M31.35 523.75h2.5v1.25h-2.5z" fill="#df5342" stroke="#560d07"/>
<path d="M34.46 521.25h2.5v3.75h-2.5zM37.57 518.12h2.5v2.5h-2.5z" fill="#60a680" stroke="#103c24"/>
<path d="M40.67 518.12h2.5v11.25h-2.5z" fill="#df5342" stroke="#560d07"/>
<path d="M43.78 528.12h2.5v1.62h-2.5zM46.89 523.5h2.5v4h-2.5zM50 518.12h2.5v3.12h-2.5zM53.11 517.67h2.5v0.9h-2.5zM56.22 513.12h2.5v5.38h-2.5zM59.32 509h2.5v3.5h-2.5zM62.43 506.25h2.5v2.5h-2.5zM65.54 490h2.5v15.62h-2.5z" fill="#60a680" stroke="#103c24"/>
<path d="M68.65 490.62h2.5v5.62h-2.5zM71.76 495h2.5v1.88h-2.5zM74.87 497.5h2.5v4.38h-2.5zM77.98 501.88h2.5v7.5h-2.5zM81.08 509.38h2.5v11.25h-2.5zM84.19 521.25h2.5v3.5h-2.5z" fill="#df5342" stroke="#560d07"/>
<path d="M87.3 518.12h2.5v6.62h-2.5z" fill="#60a680" stroke="#103c24"/>
<path d="M90.41 517.5h2.5v10h-2.5z" fill="#df5342" stroke="#560d07"/>
<path d="M93.52 515.62h2.5v11.88h-2.5z" fill="#60a680" stroke="#103c24"/>
<path d="M96.63 516.25h2.5v4.38h-2.5z" fill="#df5342" stroke="#560d07"/>
<path d="M99.73 465.62h2.5v58.75h-2.5zM102.84 438.75h2.5v36.25h-2.5z" fill="#60a680" stroke="#103c24"/>
<path d="M105.95 421.88h2.5v18.12h-2.5z" fill="#df5342" stroke="#560d07"/>
<path d="M109.06 433.75h2.5v2.75h-2.5z" fill="#60a680" stroke="#103c24"/>
<path d="M112.17 432.24h2.5v0.9h-2.5z" fill="#df5342" stroke="#560d07"/>
<path d="M115.28 427.25h2.5v4.62h-2.5z" fill="#60a680" stroke="#103c24"/>
<path d="M118.38 428.12h2.5v7.5h-2.5z" fill="#df5342" stroke="#560d07"/>
<path d="M121.49 424h2.5v11.62h-2.5zM124.6 411.88h2.5v12.5h-2.5z" fill="#60a680" stroke="#103c24"/>
<path d="M127.71 411.25h2.5v10.62h-2.5zM130.82 421.25h2.5v4.38h-2.5z" fill="#df5342" stroke="#560d07"/>
<path d="M133.93 420.62h2.5v5h-2.5z" fill="#60a680" stroke="#103c24"/>
<path d="M137.03 420.62h2.5v6.88h-2.5z" fill="#df5342" stroke="#560d07"/>
<path d="M140.14 421h2.5v6.5h-2.5zM143.25 414.75h2.5v6.5h-2.5zM146.36 379h2.5v35.75h-2.5zM149.47 376.5h2.5v2.25h-2.5z" fill="#60a680" stroke="#103c24"/>
<path d="M152.58 376.88h2.5v9.38h-2.5z" fill="#df5342" stroke="#560d07"/>
<path d="M155.69 381.88h2.5v4.38h-2.5zM158.79 379.38h2.5v3.12h-2.5zM161.9 369.38h2.5v10h-2.5z" fill="#60a680" stroke="#103c24"/>
<path d="M165.01 371.5h2.5v2.88h-2.5z" fill="#df5342" stroke="#560d07"/>
<path d="M168.12 370.88h2.5v3.12h-2.5zM171.23 366.5h2.5v2.88h-2.5z" fill="#60a680" stroke="#103c24"/>
<path d="M174.34 366.88h2.5v2.5h-2.5z" fill="#df5342" stroke="#560d07"/>
<path d="M177.44 366.88h2.5v3.12h-2.5zM180.55 348.75h2.5v17.5h-2.5zM183.66 343.12h2.5v3.38h-2.5z" fill="#60a680" stroke="#103c24"/>
<path d="M186.77 341.88h2.5v13.38h-2.5zM189.88 356h2.5v3.38h-2.5z" fill="#df5342" stroke="#560d07"/>
<path d="M192.99 348.5h2.5v10h-2.5zM196.09 325h2.5v23.5h-2.5z" fill="#60a680" stroke="#103c24"/>
<path d="M199.2 325.25h2.5v8.75h-2.5zM202.31 334.38h2.5v48.12h-2.5zM205.42 383.75h2.5v14.38h-2.5zM208.53 398.12h2.5v13.12h-2.5zM211.64 411.88h2.5v6.25h-2.5zM214.74 419.75h2.5v8.38h-2.5zM217.85 428.12h2.5v20.38h-2.5z" fill="#df5342" stroke="#560d07"/>
<path d="M220.96 438.5h2.5v10.25h-2.5z" fill="#60a680" stroke="#103c24"/>
<path d="M224.07 438.5h2.5v5.88h-2.5zM227.18 445.25h2.5v2.88h-2.5zM230.29 445.62h2.5v1.25h-2.5z" fill="#df5342" stroke="#560d07"/>
<path d="M233.4 445.25h2.5v2.25h-2.5z" fill="#60a680" stroke="#103c24"/>
<path d="M236.5 444.75h2.5v27.12h-2.5zM239.61 471.25h2.5v1.25h-2.5z" fill="#df5342" stroke="#560d07"/>
<path d="M242.72 466.25h2.5v5.62h-2.5z" fill="#60a680" stroke="#103c24"/>
<path d="M245.83 466.5h2.5v6.62h-2.5z" fill="#df5342" stroke="#560d07"/>
<path d="M248.94 464.75h2.5v8h-2.5zM252.05 458.75h2.5v5.25h-2.5zM255.15 454.38h2.5v2.5h-2.5z" fill="#60a680" stroke="#103c24"/>
<path d="M258.26 454.38h2.5v16.25h-2.5zM261.37 471.25h2.5v4h-2.5z" fill="#df5342" stroke="#560d07"/>
<path d="M264.48 474.38h2.5v1.25h-2.5zM267.59 470.62h2.5v4.12h-2.5zM270.7 464.38h2.5v6.25h-2.5z" fill="#60a680" stroke="#103c24"/>
<path d="M273.8 464.75h2.5v2.5h-2.5z" fill="#df5342" stroke="#560d07"/>
<path d="M276.91 450h2.5v17.5h-2.5zM280.02 441.88h2.5v7.5h-2.5z" fill="#60a680" stroke="#103c24"/>
<path d="M283.13 442.12h2.5v6.62h-2.5zM286.24 449h2.5v4.5h-2.5zM289.35 453.5h2.5v2.12h-2.5zM292.45 455.38h2.5v3.12h-2.5z" fill="#df5342" stroke="#560d07"/>
<path d="M295.56 455.62h2.5v2.5h-2.5z" fill="#60a680" stroke="#103c24"/>
<path d="M298.67 454.75h2.5v12.5h-2.5zM301.78 467.24h2.5v0.9h-2.5zM304.89 467.25h2.5v22.5h-2.5zM308 489.75h2.5v4.62h-2.5zM311.11 495h2.5v10.62h-2.5z" fill="#df5342" stroke="#560d07"/>
<path d="M314.21 477.75h2.5v29.75h-2.5zM317.32 469h2.5v2.88h-2.5z" fill="#60a680" stroke="#103c24"/>
<path d="M320.43 469.38h2.5v15.62h-2.5zM323.54 485.62h2.5v1.88h-2.5zM326.65 486.88h2.5v13.12h-2.5zM329.76 500.25h2.5v5.12h-2.5z" fill="#df5342" stroke="#560d07"/>
<path d="M332.86 497.5h2.5v7.5h-2.5z" fill="#60a680" stroke="#103c24"/>
<path d="M335.97 495.62h2.5v5h-2.5z" fill="#df5342" stroke="#560d07"/>
<path d="M339.08 496.88h2.5v3.12h-2.5zM342.19 496.25h2.5v12.25h-2.5z" fill="#60a680" stroke="#103c24"/>
<path d="M345.3 496.25h2.5v16h-2.5z" fill="#df5342" stroke="#560d07"/>
<path d="M348.41 508.75h2.5v3.12h-2.5z" fill="#60a680" stroke="#103c24"/>
<path d="M351.51 509.38h2.5v4.38h-2.5z" fill="#df5342" stroke="#560d07"/>
<path d="M354.62 504.38h2.5v10.62h-2.5z" fill="#60a680" stroke="#103c24"/>
<path d="M357.73 504.38h2.5v2.88h-2.5zM360.84 507.75h2.5v8.75h-2.5zM363.95 517.5h2.5v11.5h-2.5zM367.06 528.75h2.5v9.38h-2.5z" fill="#df5342" stroke="#560d07"/>
<path d="M370.16 535.62h2.5v2.5h-2.5zM373.27 535h2.5v11.88h-2.5zM376.38 535.62h2.5v10.62h-2.5z" fill="#60a680" stroke="#103c24"/>
<path d="M379.49 534.92h2.5v0.9h-2.5zM382.6 535.25h2.5v15.38h-2.5zM385.71 550.49h2.5v0.9h-2.5z" fill="#df5342" stroke="#560d07"/>
<path d="M388.82 549.75h2.5v1.5h-2.5z" fill="#60a680" stroke="#103c24"/>
<path d="M391.92 550h2.5v8.75h-2.5z" fill="#df5342" stroke="#560d07"/>
<path d="M395.03 555.25h2.5v3.75h-2.5zM398.14 543.12h2.5v11.88h-2.5z" fill="#60a680" stroke="#103c24"/>
<path d="M401.25 543.5h2.5v12.12h-2.5z" fill="#df5342" stroke="#560d07"/>
<path d="M404.36 550.25h2.5v6h-2.5zM407.47 545.62h2.5v3.75h-2.5z" fill="#60a680" stroke="#103c24"/>
<path d="M410.57 546.5h2.5v12.25h-2.5z" fill="#df5342" stroke="#560d07"/>
<path d="M413.68 544.38h2.5v14.12h-2.5z" fill="#60a680" stroke="#103c24"/>
<path d="M416.79 543.92h2.5v0.9h-2.5z" fill="#df5342" stroke="#560d07"/>
<path d="M419.9 550.62h2.5v5.62h-2.5z" fill="#60a680" stroke="#103c24"/>
<path d="M423.01 550.62h2.5v5h-2.5zM426.12 556.25h2.5v9h-2.5zM429.22 565.61h2.5v0.9h-2.5z" fill="#df5342" stroke="#560d07"/>
<path d="M432.33 559.38h2.5v7.88h-2.5z" fill="#60a680" stroke="#103c24"/>
<path d="M435.44 558.5h2.5v4.25h-2.5zM438.55 562.67h2.5v0.9h-2.5zM441.66 562.75h2.5v7.5h-2.5zM444.77 571.88h2.5v8.12h-2.5z" fill="#df5342" stroke="#560d07"/>
<path d="M447.87 574.75h2.5v5.25h-2.5z" fill="#60a680" stroke="#103c24"/>
<path d="M450.98 576.5h2.5v5.75h-2.5zM454.09 581.88h2.5v1.88h-2.5zM457.2 584.75h2.5v1.75h-2.5zM460.31 587.25h2.5v1.5h-2.5zM463.42 589h2.5v15.75h-2.5zM466.53 595h2.5v9h-2.5zM469.63 603.75h2.5v7.5h-2.5zM472.74 611.88h2.5v1.88h-2.5z" fill="#df5342" stroke="#560d07"/>
<path d="M475.85 564.75h2.5v51.5h-2.5z" fill="#60a680" stroke="#103c24"/>
<path d="M478.96 565h2.5v1.5h-2.5z" fill="#df5342" stroke="#560d07"/>
<path d="M482.07 557.5h2.5v8.5h-2.5zM485.18 529.75h2.5v26.75h-2.5z" fill="#60a680" stroke="#103c24"/>
<path d="M488.28 529.38h2.5v33.75h-2.5zM491.39 563.12h2.5v13.38h-2.5z" fill="#df5342" stroke="#560d07"/>
<path d="M494.5 556.88h2.5v19.38h-2.5zM497.61 551.25h2.5v6.25h-2.5z" fill="#60a680" stroke="#103c24"/>
<path d="M500.72 551h2.5v1.75h-2.5z" fill="#df5342" stroke="#560d07"/>
<path d="M503.83 532.5h2.5v19.75h-2.5z" fill="#60a680" stroke="#103c24"/>
<path d="M506.93 531.5h2.5v10h-2.5zM510.04 542.25h2.5v11.75h-2.5z" fill="#df5342" stroke="#560d07"/>
<path d="M513.15 550.25h2.5v3.75h-2.5z" fill="#60a680" stroke="#103c24"/>
<path d="M516.26 547.75h2.5v1h-2.5zM519.37 548.12h2.5v8.12h-2.5zM522.48 557.25h2.5v7.12h-2.5z" fill="#df5342" stroke="#560d07"/>
<path d="M525.58 561.5h2.5v2.88h-2.5zM528.69 554h2.5v6.62h-2.5zM531.8 553.49h2.5v0.9h-2.5zM534.91 543.12h2.5v8.38h-2.5zM538.02 541.5h2.5v1.25h-2.5z" fill="#60a680" stroke="#103c24"/>
<path d="M541.13 539h2.5v4.12h-2.5z" fill="#df5342" stroke="#560d07"/>
<path d="M544.24 541.25h2.5v1.25h-2.5zM547.34 538.12h2.5v2.5h-2.5zM550.45 530h2.5v6.88h-2.5zM553.56 519.38h2.5v10.62h-2.5z" fill="#60a680" stroke="#103c24"/>
<path d="M556.67 519.38h2.5v3.12h-2.5zM559.78 523.75h2.5v2.5h-2.5zM562.89 526.5h2.5v12.25h-2.5zM565.99 537.99h2.5v0.9h-2.5zM569.1 538.12h2.5v3.38h-2.5z" fill="#df5342" stroke="#560d07"/>
<path d="M572.21 536.25h2.5v6.88h-2.5zM575.32 532.25h2.5v3h-2.5zM578.43 531h2.5v1.25h-2.5zM581.54 518.12h2.5v13.12h-2.5z" fill="#60a680" stroke="#103c24"/>
<path d="M584.64 517.5h2.5v7.5h-2.5z" fill="#df5342" stroke="#560d07"/>
<path d="M587.75 523.12h2.5v2.5h-2.5z" fill="#60a680" stroke="#103c24"/>
<path d="M590.86 521.88h2.5v1.25h-2.5z" fill="#df5342" stroke="#560d07"/>
<path d="M593.97 523.12h2.5v1.25h-2.5zM597.08 521.88h2.5v1.25h-2.5zM600.19 516.25h2.5v5.25h-2.5zM603.29 515h2.5v1.25h-2.5z" fill="#60a680" stroke="#103c24"/>
<path d="M606.4 513.75h2.5v2.75h-2.5zM609.51 517.25h2.5v2.12h-2.5zM612.62 519.75h2.5v1.5h-2.5zM615.73 521h2.5v1.25h-2.5zM618.84 524.38h2.5v5.62h-2.5zM621.95 527.75h2.5v1.62h-2.5zM625.05 530.62h2.5v2.5h-2.5zM628.16 534h2.5v6.62h-2.5zM631.27 541.5h2.5v14.75h-2.5z" fill="#df5342" stroke="#560d07"/>
<path d="M634.38 556.25h2.5v1h-2.5z" fill="#60a680" stroke="#103c24"/>
<path d="M637.49 557.25h2.5v7.12h-2.5zM640.6 564.38h2.5v1.62h-2.5z" fill="#df5342" stroke="#560d07"/>
<path d="M643.7 559h2.5v5.75h-2.5z" fill="#60a680" stroke="#103c24"/>
<path d="M646.81 558.5h2.5v2.75h-2.5zM649.92 563.12h2.5v10h-2.5z" fill="#df5342" stroke="#560d07"/>
<path d="M653.03 564.38h2.5v8.75h-2.5zM656.14 550.62h2.5v12.88h-2.5z" fill="#60a680" stroke="#103c24"/>
<path d="M659.25 552.25h2.5v10.88h-2.5z" fill="#df5342" stroke="#560d07"/>
<path d="M662.35 560h2.5v2.5h-2.5z" fill="#60a680" stroke="#103c24"/>
<path d="M665.46 558.75h2.5v6.25h-2.5zM668.57 565.62h2.5v12.5h-2.5zM671.68 577.5h2.5v8.75h-2.5z" fill="#df5342" stroke="#560d07"/>
<path d="M674.79 576.88h2.5v8.12h-2.5z" fill="#60a680" stroke="#103c24"/>
<path d="M677.9 574.38h2.5v4.62h-2.5z" fill="#df5342" stroke="#560d07"/>
<path d="M681 574.38h2.5v1.88h-2.5zM684.11 568.5h2.5v7.12h-2.5zM687.22 564.38h2.5v4.38h-2.5zM690.33 556h2.5v8.75h-2.5z" fill="#60a680" stroke="#103c24"/>
<path d="M693.44 558.12h2.5v3.38h-2.5z" fill="#df5342" stroke="#560d07"/>
<path d="M696.55 562.75h2.5v1h-2.5zM699.66 551.25h2.5v13.5h-2.5z" fill="#60a680" stroke="#103c24"/>
<path d="M702.76 552.5h2.5v6.5h-2.5z" fill="#df5342" stroke="#560d07"/>
<path d="M705.87 555.62h2.5v4.12h-2.5z" fill="#60a680" stroke="#103c24"/>
<path d="M708.98 558.75h2.5v6h-2.5zM712.09 567.5h2.5v4.38h-2.5zM715.2 573.11h2.5v0.9h-2.5zM718.31 576.25h2.5v4.38h-2.5z" fill="#df5342" stroke="#560d07"/>
<path d="M721.41 582.25h2.5v1.25h-2.5zM724.52 575.62h2.5v5h-2.5z" fill="#60a680" stroke="#103c24"/>
<path d="M727.63 577.5h2.5v2.75h-2.5z" fill="#df5342" stroke="#560d07"/>
<path d="M730.74 574h2.5v6.62h-2.5zM733.85 572.25h2.5v1.25h-2.5z" fill="#60a680" stroke="#103c24"/>
<path d="M736.96 570.62h2.5v3.75h-2.5z" fill="#df5342" stroke="#560d07"/>
<path d="M740.06 564h2.5v9.12h-2.5z" fill="#60a680" stroke="#103c24"/>
<path d="M743.17 565.62h2.5v1.25h-2.5zM746.28 567.25h2.5v1.25h-2.5z" fill="#df5342" stroke="#560d07"/>
<path d="M749.39 564.38h2.5v4.62h-2.5zM752.5 558.12h2.5v5.38h-2.5zM755.61 557.99h2.5v0.9h-2.5zM758.71 557.75h2.5v1.62h-2.5z" fill="#60a680" stroke="#103c24"/>
<path d="M761.82 558.12h2.5v1.88h-2.5z" fill="#df5342" stroke="#560d07"/>
<path d="M764.93 553.75h2.5v4.75h-2.5zM768.04 547.25h2.5v5.88h-2.5zM771.15 536.5h2.5v11.62h-2.5zM774.26 529h2.5v8.75h-2.5z" fill="#60a680" stroke="#103c24"/>
<path d="M777.37 528.12h2.5v4.12h-2.5z" fill="#df5342" stroke="#560d07"/>
<path d="M780.47 511.88h2.5v19.62h-2.5z" fill="#60a680" stroke="#103c24"/>
<path d="M783.58 511.88h2.5v3.75h-2.5zM786.69 516h2.5v1.25h-2.5z" fill="#df5342" stroke="#560d07"/>
<path d="M789.8 514.38h2.5v2.88h-2.5zM792.91 513.49h2.5v0.9h-2.5zM796.02 511.88h2.5v1.88h-2.5z" fill="#60a680" stroke="#103c24"/>
<path d="M799.12 512.25h2.5v3h-2.5zM802.23 516h2.5v1.25h-2.5z" fill="#df5342" stroke="#560d07"/>
<path d="M805.34 514.38h2.5v3.12h-2.5zM808.45 513.11h2.5v0.9h-2.5z" fill="#60a680" stroke="#103c24"/>
<path d="M811.56 512.75h2.5v1.62h-2.5zM814.67 515h2.5v3.5h-2.5z" fill="#df5342" stroke="#560d07"/>
<path d="M817.77 512.25h2.5v5.88h-2.5zM820.88 508.5h2.5v2.75h-2.5z" fill="#60a680" stroke="#103c24"/>
<path d="M823.99 508.5h2.5v1.25h-2.5zM827.1 509.38h2.5v3.12h-2.5z" fill="#df5342" stroke="#560d07"/>
<path d="M830.21 510h2.5v1.88h-2.5z" fill="#60a680" stroke="#103c24"/>
<path d="M833.32 511.88h2.5v5.62h-2.5zM836.42 516.88h2.5v1.25h-2.5zM839.53 517.5h2.5v11.25h-2.5z" fill="#df5342" stroke="#560d07"/>
<path d="M842.64 525h2.5v3.75h-2.5z" fill="#60a680" stroke="#103c24"/>
<path d="M845.75 524h2.5v3.75h-2.5zM848.86 526.88h2.5v1.62h-2.5zM851.97 527.75h2.5v8.75h-2.5zM855.08 538.12h2.5v8.38h-2.5z" fill="#df5342" stroke="#560d07"/>
<path d="M858.18 542.25h2.5v5.5h-2.5zM861.29 540h2.5v1.88h-2.5zM864.4 513.12h2.5v27.5h-2.5zM867.51 489.38h2.5v24.38h-2.5zM870.62 484.38h2.5v5h-2.5z" fill="#60a680" stroke="#103c24"/>
<path d="M873.73 485.99h2.5v0.9h-2.5z" fill="#df5342" stroke="#560d07"/>
<path d="M876.83 479.38h2.5v8.12h-2.5zM879.94 477.68h2.5v0.9h-2.5zM883.05 470h2.5v6.88h-2.5z" fill="#60a680" stroke="#103c24"/>
<path d="M886.16 469.38h2.5v1.25h-2.5z" fill="#df5342" stroke="#560d07"/>
<path d="M889.27 455.25h2.5v15.38h-2.5zM892.38 440.25h2.5v14.12h-2.5z" fill="#60a680" stroke="#103c24"/>
<path d="M895.48 441.25h2.5v6.25h-2.5z" fill="#df5342" stroke="#560d07"/>
<path d="M898.59 447.5h2.5v1.88h-2.5zM901.7 432.5h2.5v14.38h-2.5z" fill="#60a680" stroke="#103c24"/>
<path d="M904.81 432.5h2.5v8.12h-2.5zM907.92 441.25h2.5v1.88h-2.5zM911.03 442.5h2.5v2.75h-2.5z" fill="#df5342" stroke="#560d07"/>
<path d="M914.13 440h2.5v5.25h-2.5zM917.24 439.61h2.5v0.9h-2.5zM920.35 439.55h2.5v0.9h-2.5z" fill="#60a680" stroke="#103c24"/>
<path d="M923.46 439.55h2.5v0.9h-2.5zM926.57 439.61h2.5v0.9h-2.5zM929.68 441h2.5v7.75h-2.5zM932.79 450h2.5v14.38h-2.5zM935.89 464.38h2.5v5h-2.5z" fill="#df5342" stroke="#560d07"/>
<path d="M939 466.25h2.5v3.12h-2.5zM942.11 464.86h2.5v0.9h-2.5z" fill="#60a680" stroke="#103c24"/>
<path d="M945.22 465.62h2.5v10h-2.5zM948.33 475.61h2.5v0.9h-2.5z" fill="#df5342" stroke="#560d07"/>
<path d="M951.44 471.5h2.5v5h-2.5z" fill="#60a680" stroke="#103c24"/>
<path d="M954.54 471.25h2.5v1h-2.5zM957.65 472.25h2.5v1.5h-2.5z" fill="#df5342" stroke="#560d07"/>
<path d="M960.76 470.62h2.5v3.75h-2.5zM963.87 460.25h2.5v9.12h-2.5z" fill="#60a680" stroke="#103c24"/>
<path d="M966.98 460.62h2.5v3.75h-2.5z" fill="#df5342" stroke="#560d07"/>
<path d="M970.09 445.62h2.5v22.88h-2.5zM973.19 445.18h2.5v0.9h-2.5zM976.3 439.75h2.5v7.75h-2.5zM979.41 439.36h2.5v0.9h-2.5z" fill="#60a680" stroke="#103c24"/>
<path d="M982.52 441.88h2.5v8.75h-2.5z" fill="#df5342" stroke="#560d07"/>
<path d="M985.63 444.38h2.5v6.25h-2.5zM988.74 443.12h2.5v2.88h-2.5z" fill="#60a680" stroke="#103c24"/>
<path d="M991.84 442.5h2.5v2.25h-2.5zM994.95 446.88h2.5v4.12h-2.5zM998.06 453.5h2.5v2.75h-2.5z" fill="#df5342" stroke="#560d07"/>
<path d="M1001.17 452.5h2.5v5h-2.5z" fill="#60a680" stroke="#103c24"/>
<path d="M1004.28 452.5h2.5v1h-2.5z" fill="#df5342" stroke="#560d07"/>
<path d="M1007.39 453.75h2.5v1.25h-2.5z" fill="#60a680" stroke="#103c24"/>
<path d="M1010.5 452.5h2.5v1h-2.5zM1013.6 453.5h2.5v2.75h-2.5z" fill="#df5342" stroke="#560d07"/>
<path d="M1016.71 455.25h2.5v2h-2.5z" fill="#60a680" stroke="#103c24"/>
<path d="M1019.82 454.38h2.5v10h-2.5z" fill="#df5342" stroke="#560d07"/>
<path d="M1022.93 458.5h2.5v5.88h-2.5zM1026.04 458.75h2.5v1.25h-2.5z" fill="#60a680" stroke="#103c24"/>
<path d="M1029.15 457.99h2.5v0.9h-2.5zM1032.25 459.38h2.5v1.62h-2.5z" fill="#df5342" stroke="#560d07"/>
<path d="M1035.36 460.62h2.5v1.62h-2.5z" fill="#60a680" stroke="#103c24"/>
<path d="M1038.47 460.62h2.5v16.88h-2.5zM1041.58 477.5h2.5v5.62h-2.5z" fill="#df5342" stroke="#560d07"/>
<path d="M1044.69 473.75h2.5v6.88h-2.5zM1047.8 462.5h2.5v11.88h-2.5zM1050.9 424.38h2.5v39.38h-2.5zM1054.01 421.5h2.5v2h-2.5zM1057.12 406.88h2.5v13.75h-2.5zM1060.23 398.75h2.5v7.5h-2.5zM1063.34 370.62h2.5v28.75h-2.5zM1066.45 369.75h2.5v1.25h-2.5zM1069.55 350.25h2.5v19.12h-2.5zM1072.66 341.25h2.5v7.5h-2.5z" fill="#60a680" stroke="#103c24"/>
<path d="M1075.77 342.5h2.5v15h-2.5zM1078.88 358.12h2.5v1.25h-2.5z" fill="#df5342" stroke="#560d07"/>
<path d="M1081.99 354.38h2.5v4.62h-2.5zM1085.1 353.11h2.5v0.9h-2.5zM1088.21 346.25h2.5v5h-2.5zM1091.31 345.55h2.5v0.9h-2.5z" fill="#60a680" stroke="#103c24"/>
<path d="M1094.42 345.3h2.5v0.9h-2.5zM1097.53 345h2.5v13.12h-2.5z" fill="#df5342" stroke="#560d07"/>
<path d="M1100.64 345h2.5v12.5h-2.5z" fill="#60a680" stroke="#103c24"/>
<path d="M1103.75 346.5h2.5v2.88h-2.5z" fill="#df5342" stroke="#560d07"/>
<path d="M1106.86 343.5h2.5v2.75h-2.5zM1109.96 340.62h2.5v2.12h-2.5z" fill="#60a680" stroke="#103c24"/>
<path d="M1113.07 340.61h2.5v0.9h-2.5zM1116.18 341.25h2.5v11.88h-2.5zM1119.29 353.75h2.5v1h-2.5zM1122.4 356.5h2.5v7.5h-2.5z" fill="#df5342" stroke="#560d07"/>
<path d="M1125.51 352.5h2.5v11.5h-2.5zM1128.61 356.18h2.5v0.9h-2.5zM1131.72 351.25h2.5v4.75h-2.5zM1134.83 346h2.5v5.88h-2.5zM1137.94 326.25h2.5v18.12h-2.5zM1141.05 312.5h2.5v13.75h-2.5z" fill="#60a680" stroke="#103c24"/>
<path d="M1144.16 312.5h2.5v8.75h-2.5zM1147.26 322.25h2.5v7.75h-2.5zM1150.37 330h2.5v15h-2.5zM1153.48 345.62h2.5v3.75h-2.5zM1156.59 349.38h2.5v8.75h-2.5zM1159.7 358.12h2.5v6.88h-2.5z" fill="#df5342" stroke="#560d07"/>
<path d="M1162.81 353.5h2.5v11.5h-2.5zM1165.92 347.25h2.5v5.88h-2.5z" fill="#60a680" stroke="#103c24"/>
<path d="M1169.02 349h2.5v6.25h-2.5zM1172.13 355.8h2.5v0.9h-2.5z" fill="#df5342" stroke="#560d07"/>
<path d="M1175.24 354.36h2.5v0.9h-2.5zM1178.35 353.36h2.5v0.9h-2.5zM1181.46 352.5h2.5v1.25h-2.5zM1184.57 341.88h2.5v9.62h-2.5zM1187.67 333.12h2.5v8.12h-2.5zM1190.78 316.88h2.5v15.62h-2.5z" fill="#60a680" stroke="#103c24"/>
<path d="M1193.89 316.8h2.5v0.9h-2.5zM1197 318.12h2.5v3.12h-2.5z" fill="#df5342" stroke="#560d07"/>
<path d="M1200.11 316.25h2.5v5h-2.5z" fill="#60a680" stroke="#103c24"/>
<path d="M1203.22 316.25h2.5v15.62h-2.5z" fill="#df5342" stroke="#560d07"/>
<path d="M1206.32 325h2.5v5.62h-2.5zM1209.43 324.74h2.5v0.9h-2.5zM1212.54 321.5h2.5v2.5h-2.5z" fill="#60a680" stroke="#103c24"/>
<path d="M1215.65 321.88h2.5v3.75h-2.5z" fill="#df5342" stroke="#560d07"/>
<path d="M1218.76 319.38h2.5v6.88h-2.5z" fill="#60a680" stroke="#103c24"/>
<path d="M1221.87 319.38h2.5v3.12h-2.5zM1224.97 322.5h2.5v3.12h-2.5zM1228.08 328.11h2.5v0.9h-2.5zM1231.19 329.38h2.5v4.62h-2.5z" fill="#df5342" stroke="#560d07"/>
<path d="M1234.3 334.74h2.5v0.9h-2.5z" fill="#60a680" stroke="#103c24"/>
<path d="M1237.41 337.75h2.5v8.5h-2.5z" fill="#df5342" stroke="#560d07"/>
<path d="M1240.52 343.12h2.5v7.5h-2.5zM1243.63 340.62h2.5v1.88h-2.5zM1246.73 338.75h2.5v1.25h-2.5z" fill="#60a680" stroke="#103c24"/>
<path d="M1249.84 332.75h2.5v5.38h-2.5z" fill="#df5342" stroke="#560d07"/>
<path d="M1252.95 331.25h2.5v6.25h-2.5z" fill="#60a680" stroke="#103c24"/>
<path d="M1256.06 331.5h2.5v7.88h-2.5zM1259.17 340h2.5v1.25h-2.5z" fill="#df5342" stroke="#560d07"/>
<path d="M1262.28 339h2.5v2.25h-2.5z" fill="#60a680" stroke="#103c24"/>
<path d="M1265.38 337.24h2.5v0.9h-2.5zM1268.49 338.24h2.5v0.9h-2.5z" fill="#df5342" stroke="#560d07"/>
<path d="M1271.6 337.99h2.5v0.9h-2.5z" fill="#60a680" stroke="#103c24"/>
<path d="M1274.71 338.12h2.5v5.38h-2.5z" fill="#df5342" stroke="#560d07"/>
<path d="M1277.82 341h2.5v3.38h-2.5zM1280.93 339.74h2.5v0.9h-2.5zM1284.03 338.75h2.5v1.5h-2.5zM1287.14 326.25h2.5v13.75h-2.5z" fill="#60a680" stroke="#103c24"/>
<path d="M1290.25 327.25h2.5v2.75h-2.5zM1293.36 330.62h2.5v3.75h-2.5zM1296.47 335.25h2.5v2.5h-2.5zM1299.58 339.38h2.5v5.62h-2.5zM1302.68 346.25h2.5v1.25h-2.5zM1305.79 348.68h2.5v0.9h-2.5z" fill="#df5342" stroke="#560d07"/>
<path d="M1308.9 349.38h2.5v1.25h-2.5z" fill="#60a680" stroke="#103c24"/>
<path d="M1312.01 349.75h2.5v4.25h-2.5z" fill="#df5342" stroke="#560d07"/>
<path d="M1315.12 332.5h2.5v22.5h-2.5z" fill="#60a680" stroke="#103c24"/>
<path d="M1318.23 332.24h2.5v0.9h-2.5z" fill="#df5342" stroke="#560d07"/>
<path d="M1321.34 332.24h2.5v0.9h-2.5zM1324.44 329h2.5v4.12h-2.5zM1327.55 305.62h2.5v21.88h-2.5zM1330.66 304.38h2.5v1.25h-2.5zM1333.77 303.12h2.5v1.25h-2.5z" fill="#60a680" stroke="#103c24"/>
<path d="M1336.88 303.49h2.5v0.9h-2.5z" fill="#df5342" stroke="#560d07"/>
<path d="M1339.99 304h2.5v1h-2.5zM1343.09 303.49h2.5v0.9h-2.5z" fill="#60a680" stroke="#103c24"/>
</g>
<g stroke="#4a4b50" stroke-width="1.2" fill="none">
<path d="M1510.6 32V817.5"/>
<path d="M12 785.3H1588" stroke-width="1.15"/>
</g>
<path d="M12 125.3H1588" stroke="#3b3d47" stroke-width="1.5" fill="none"/>
<text x="12.3" y="23.8" fill="#dcdee4" textLength="465" lengthAdjust="spacingAndGlyphs" font-size="14.5" stroke="#dcdee4" stroke-width="0.3">bitcoinwallah published on TradingView.com, Jun 15, 2023 09:24 UTC</text>
<text x="21.3" y="55.6" fill="#434449" textLength="174" lengthAdjust="spacingAndGlyphs">RSI (14, close, SMA, 14, 2)</text>
<text x="205" y="55.6" fill="#7e57c2" textLength="34.5" lengthAdjust="spacingAndGlyphs">69.01</text>
<text x="249.5" y="55.6" fill="#fae53c" textLength="33.5" lengthAdjust="spacingAndGlyphs">57.12</text>
<text x="292.2" y="55.5" fill="#434449" font-size="11.8" font-weight="bold">∅</text>
<text x="310.3" y="55.5" fill="#434449" font-size="11.8" font-weight="bold">∅</text>
<text x="21.5" y="149.5" fill="#434449" textLength="327" lengthAdjust="spacingAndGlyphs">Market Cap BTC Dominance, %, 1D, CRYPTOCAP</text>
<text x="357" y="149.5" fill="#22543a" textLength="57.5" lengthAdjust="spacingAndGlyphs"><tspan fill="#4d4e52">O</tspan>49.11%</text>
<text x="423" y="149.5" fill="#22543a" textLength="60" lengthAdjust="spacingAndGlyphs"><tspan fill="#4d4e52">H</tspan>49.19%</text>
<text x="492" y="149.5" fill="#22543a" textLength="59" lengthAdjust="spacingAndGlyphs"><tspan fill="#4d4e52">L</tspan>49.03%</text>
<text x="560" y="149.5" fill="#22543a" textLength="59" lengthAdjust="spacingAndGlyphs"><tspan fill="#4d4e52">C</tspan>49.15%</text>
<text x="628" y="149.5" fill="#22543a" textLength="102" lengthAdjust="spacingAndGlyphs">+0.01 (+0.03%)</text>
<text x="21.5" y="169.5" fill="#434449" textLength="130.5" lengthAdjust="spacingAndGlyphs">EMA (200, close, 0)</text>
<text x="161" y="169.5" fill="#2196f3" textLength="52" lengthAdjust="spacingAndGlyphs">45.83%</text>
<text x="21.5" y="189.7" fill="#434449" textLength="122" lengthAdjust="spacingAndGlyphs">EMA (50, close, 0)</text>
<text x="152.5" y="189.7" fill="#f23645" textLength="51.5" lengthAdjust="spacingAndGlyphs">48.05%</text>
<text x="21.5" y="210" fill="#434449" textLength="20" lengthAdjust="spacingAndGlyphs">Vol</text>
<text x="50" y="210" fill="#26a69a" textLength="45" lengthAdjust="spacingAndGlyphs">72.51B</text>
<text x="1519.8" y="54" fill="#55565a" textLength="35.2" lengthAdjust="spacingAndGlyphs" font-size="13.5">75.00</text>
<text x="1519.8" y="87.5" fill="#55565a" textLength="35.2" lengthAdjust="spacingAndGlyphs" font-size="13.5">50.00</text>
<text x="1519.8" y="120.8" fill="#55565a" textLength="35.2" lengthAdjust="spacingAndGlyphs" font-size="13.5">25.00</text>
<text x="1522.4" y="146" fill="#55565a" textLength="11.5" lengthAdjust="spacingAndGlyphs">%</text>
<text x="1519.8" y="181.8" fill="#55565a" textLength="48" lengthAdjust="spacingAndGlyphs" font-size="13.5">54.00%</text>
<text x="1519.8" y="232.55" fill="#55565a" textLength="48" lengthAdjust="spacingAndGlyphs" font-size="13.5">52.00%</text>
<text x="1519.8" y="285.29" fill="#55565a" textLength="48" lengthAdjust="spacingAndGlyphs" font-size="13.5">50.00%</text>
<text x="1519.8" y="340.18" fill="#55565a" textLength="48" lengthAdjust="spacingAndGlyphs" font-size="13.5">48.00%</text>
<text x="1519.8" y="397.41" fill="#55565a" textLength="48" lengthAdjust="spacingAndGlyphs" font-size="13.5">46.00%</text>
<text x="1519.8" y="457.19" fill="#55565a" textLength="48" lengthAdjust="spacingAndGlyphs" font-size="13.5">44.00%</text>
<text x="1519.8" y="503.83" fill="#55565a" textLength="48" lengthAdjust="spacingAndGlyphs" font-size="13.5">42.50%</text>
<text x="1519.8" y="552.15" fill="#55565a" textLength="48" lengthAdjust="spacingAndGlyphs" font-size="13.5">41.00%</text>
<text x="1519.8" y="585.35" fill="#55565a" textLength="48" lengthAdjust="spacingAndGlyphs" font-size="13.5">40.00%</text>
<text x="1519.8" y="619.4" fill="#55565a" textLength="48" lengthAdjust="spacingAndGlyphs" font-size="13.5">39.00%</text>
<text x="1519.8" y="654.32" fill="#55565a" textLength="48" lengthAdjust="spacingAndGlyphs" font-size="13.5">38.00%</text>
<text x="1519.8" y="690.19" fill="#55565a" textLength="48" lengthAdjust="spacingAndGlyphs" font-size="13.5">37.00%</text>
<text x="1519.8" y="727.03" fill="#55565a" textLength="48" lengthAdjust="spacingAndGlyphs" font-size="13.5">36.00%</text>
<text x="1519.8" y="761.07" fill="#55565a" textLength="48" lengthAdjust="spacingAndGlyphs" font-size="13.5">35.10%</text>
<path d="M1510 293.6h69.8a2.5 2.5 0 0 1 2.5 2.5v29.2a2.5 2.5 0 0 1 -2.5 2.5h-69.8z" fill="#6ba686"/>
<rect x="1458.8" y="293.8" width="50.4" height="18.4" rx="2.5" fill="#6ba686"/>
<text x="1464.3" y="308" fill="#e9f1ec" textLength="38.8" lengthAdjust="spacingAndGlyphs" font-size="13.6">BTC.D</text>
<text x="1519.6" y="308.1" fill="#e9f1ec" textLength="48" lengthAdjust="spacingAndGlyphs" font-size="13.2">49.15%</text>
<text x="1520.5" y="323.1" fill="#e9f1ec" textLength="55.5" lengthAdjust="spacingAndGlyphs" font-size="13.2">14:35:06</text>
<text x="69.45" y="806.4" fill="#55565a" font-size="13.3" text-anchor="middle">May</text>
<text x="165.81" y="806.4" fill="#55565a" font-size="13.3" text-anchor="middle">Jun</text>
<text x="259.06" y="806.4" fill="#55565a" font-size="13.3" text-anchor="middle">Jul</text>
<text x="355.42" y="806.4" fill="#55565a" font-size="13.3" text-anchor="middle">Aug</text>
<text x="451.78" y="806.4" fill="#55565a" font-size="13.3" text-anchor="middle">Sep</text>
<text x="545.04" y="806.4" fill="#55565a" font-size="13.3" text-anchor="middle">Oct</text>
<text x="641.4" y="806.4" fill="#55565a" font-size="13.3" text-anchor="middle">Nov</text>
<text x="734.65" y="806.4" fill="#55565a" font-size="13.3" text-anchor="middle">Dec</text>
<text x="813.81" y="806.4" fill="#45464b" textLength="34.5" lengthAdjust="spacingAndGlyphs" font-size="13.3" font-weight="bold">2023</text>
<text x="927.37" y="806.4" fill="#55565a" font-size="13.3" text-anchor="middle">Feb</text>
<text x="1017.51" y="806.4" fill="#55565a" font-size="13.3" text-anchor="middle">2</text>
<text x="1110.76" y="806.4" fill="#55565a" font-size="13.3" text-anchor="middle">Apr</text>
<text x="1204.02" y="806.4" fill="#55565a" font-size="13.3" text-anchor="middle">May</text>
<text x="1300.38" y="806.4" fill="#55565a" font-size="13.3" text-anchor="middle">Jun</text>
<text x="1393.63" y="806.4" fill="#55565a" font-size="13.3" text-anchor="middle">Jul</text>
<text x="1489.99" y="806.4" fill="#55565a" font-size="13.3" text-anchor="middle">Aug</text>
<g fill="#d6d8de"><path d="M12 832.2h9v11.3h-5v-7.3h-4z"/><circle cx="24.5" cy="834.5" r="1.9"/><path d="M29.2 832.2h5.8l-5 11.3h-4.7z"/></g>
<text x="40" y="844" fill="#d6d8de" textLength="87" lengthAdjust="spacingAndGlyphs" font-size="15.5" stroke="#d6d8de" stroke-width="0.4">TradingView</text>
</svg>
</body></html>
